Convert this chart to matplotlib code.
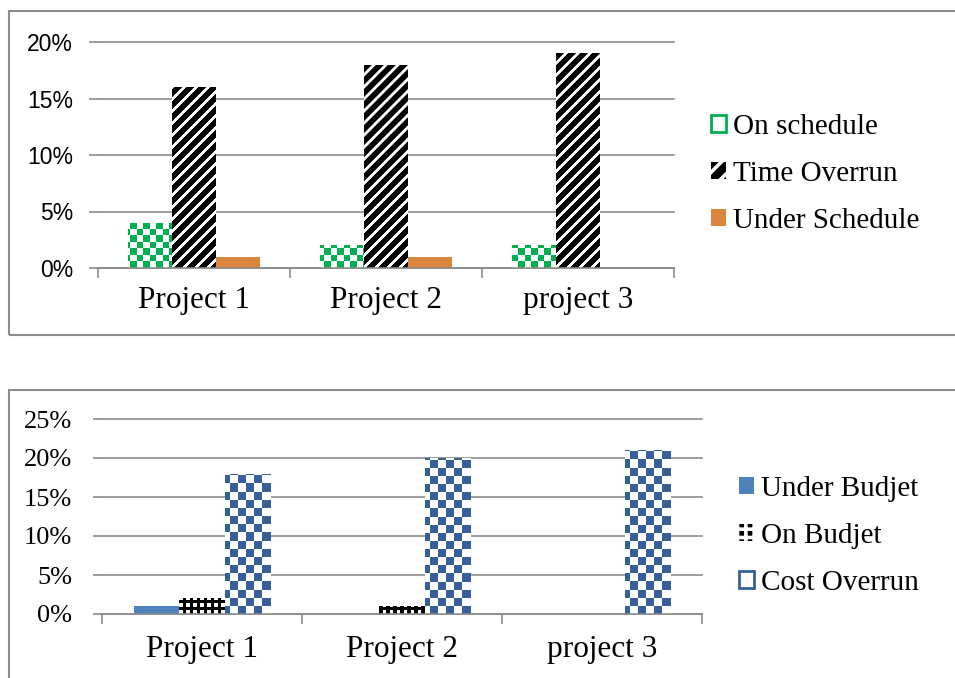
import numpy as np
import matplotlib
matplotlib.use('Agg')
import matplotlib.pyplot as plt
from matplotlib.patches import Rectangle, Patch
from matplotlib.colors import ListedColormap
from matplotlib.ticker import FuncFormatter

# schedule performance per project (%)
projects = ['Project 1', 'Project 2', 'project 3']
on_schedule = [4, 2, 2]
time_overrun = [16, 18, 19]
under_schedule = [1, 1, 0]

# budget performance per project (%)
under_budjet = [1, 0, 0]
on_budjet = [2, 1, 0]
cost_overrun = [18, 20, 21]

GREEN = '#00b050'
ORANGE = '#d9853b'
LBLUE = '#4f81bd'
DBLUE = '#37609a'
GRID = '#8c8c8c'

plt.rcParams['hatch.linewidth'] = 2.6
serif = 'Liberation Serif'
sans = 'Liberation Sans'

W, H = 955, 678
fig = plt.figure(figsize=(W / 100, H / 100), dpi=100)


def px_axes(l, t, r, b):
    return fig.add_axes([l / W, 1 - b / H, (r - l) / W, (b - t) / H])


def pattern_fill(ax, bars, kind, c_on, c_off, cell):
    # paint a pixel-aligned pattern over the whole axes and clip it to each bar
    bb = ax.get_window_extent()
    if kind == 'stripes':
        nx, ny = int(round(bb.width)), int(round(bb.height))
    else:
        nx = int(round(bb.width / cell))
        ny = int(round(bb.height / cell))
    jj, ii = np.meshgrid(np.arange(nx), np.arange(ny))
    if kind == 'checker':
        arr = (ii + jj) % 2
    elif kind == 'stripes':
        arr = ((jj - ii) % cell < 4).astype(int)
    else:
        arr = ((ii % 2 == 0) & (jj % 2 == 0)).astype(int)
    x0, x1 = ax.get_xlim()
    y0, y1 = ax.get_ylim()
    for bar in bars:
        if bar.get_height() <= 0:
            continue
        bar.set_facecolor('none')
        im = ax.imshow(arr, cmap=ListedColormap([c_off, c_on]), extent=(x0, x1, y0, y1),
                       origin='lower', interpolation='antialiased', aspect='auto', zorder=2)
        im.set_clip_path(bar)


def style_axes(ax, ymax, ystep, ylab_font, ylab_size, ypad):
    ax.set_xlim(0.5, 3.5)
    ax.set_ylim(0, ymax)
    ax.set_yticks(np.arange(0, ymax + 0.1, ystep))
    ax.yaxis.set_major_formatter(FuncFormatter(lambda v, p: '%d%%' % v))
    ax.grid(axis='y', color=GRID, lw=1.2, zorder=0)
    for gl in ax.get_ygridlines():
        gl.set_clip_on(False)
    ax.set_axisbelow(True)
    for s in ['top', 'right', 'left']:
        ax.spines[s].set_visible(False)
    ax.spines['bottom'].set_color(GRID)
    ax.spines['bottom'].set_linewidth(1.2)
    ax.tick_params(axis='y', length=6.5, width=1.2, color=GRID, pad=ypad)
    for t in ax.get_yticklabels():
        t.set_fontfamily(ylab_font)
        t.set_fontsize(ylab_size)
    ax.set_xticks([1, 2, 3])
    ax.set_xticklabels(projects, fontfamily=serif, fontsize=22.5)
    ax.set_xticks([0.5, 1.5, 2.5, 3.5], minor=True)
    ax.tick_params(axis='x', which='major', length=0)
    ax.tick_params(axis='x', which='minor', length=7, width=1.2, color=GRID)


# outer frames around each chart
fig.add_artist(Rectangle((9 / W, 1 - 335 / H), 1.2, 324 / H, transform=fig.transFigure,
                         fill=False, edgecolor=GRID, lw=1.5))
fig.add_artist(Rectangle((9 / W, -0.2), 1.2, 0.2 + 1 - 390 / H, transform=fig.transFigure,
                         fill=False, edgecolor=GRID, lw=1.5))

x = np.arange(1, 4)
bw = 0.228

# ---- schedule chart
ax1 = px_axes(98, 42, 674, 268)
style_axes(ax1, 20, 5, sans, 16.5, 11.5)
ax1.tick_params(axis='x', which='major', pad=13)
b_on = ax1.bar(x - bw, on_schedule, bw, color=GREEN, lw=0, zorder=2)
b_time = ax1.bar(x, time_overrun, bw, color='black', lw=0, zorder=2)
ax1.bar(x + bw, under_schedule, bw, color=ORANGE, lw=0, zorder=2)
pattern_fill(ax1, b_on, 'checker', GREEN, 'white', 6.5)
pattern_fill(ax1, b_time, 'stripes', 'white', 'black', 12)
ax1.set_xlim(0.5, 3.5)
ax1.set_ylim(0, 20)

h1 = [Patch(facecolor='white', edgecolor=GREEN, lw=2),
      Patch(facecolor='black', edgecolor='white', hatch='//', lw=0),
      Patch(facecolor=ORANGE, lw=0)]
ax1.legend(h1, ['On schedule', 'Time Overrun', 'Under Schedule'], loc='center left',
           bbox_to_anchor=(711 / W, 1 - 174 / H), bbox_transform=fig.transFigure,
           frameon=False, prop={'family': serif, 'size': 21}, handlelength=0.5,
           handleheight=0.5, handletextpad=0.25, labelspacing=0.72, borderpad=0,
           borderaxespad=0)

# ---- budget chart
ax2 = px_axes(102, 419, 702, 614)
style_axes(ax2, 25, 5, serif, 19, 15)
ax2.tick_params(axis='x', which='major', pad=15)
ax2.bar(x - bw, under_budjet, bw, color=LBLUE, lw=0, zorder=2)
b_onb = ax2.bar(x, on_budjet, bw, color='black', lw=0, zorder=2)
b_cost = ax2.bar(x + bw, cost_overrun, bw, color=DBLUE, lw=0, zorder=2)
pattern_fill(ax2, b_onb, 'dots', 'white', 'black', 3.5)
pattern_fill(ax2, b_cost, 'checker', DBLUE, 'white', 8)
ax2.set_xlim(0.5, 3.5)
ax2.set_ylim(0, 25)

h2 = [Patch(facecolor=LBLUE, lw=0),
      Patch(facecolor='black', edgecolor='white', hatch='++', lw=0),
      Patch(facecolor='white', edgecolor=DBLUE, lw=2)]
ax2.legend(h2, ['Under Budjet', 'On Budjet', 'Cost Overrun'], loc='center left',
           bbox_to_anchor=(739 / W, 1 - 536 / H), bbox_transform=fig.transFigure,
           frameon=False, prop={'family': serif, 'size': 21}, handlelength=0.5,
           handleheight=0.5, handletextpad=0.25, labelspacing=0.72, borderpad=0,
           borderaxespad=0)

fig.savefig('out.png', dpi=100)
